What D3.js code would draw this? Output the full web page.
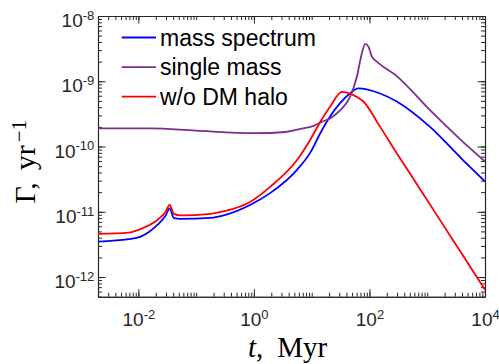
<!DOCTYPE html>
<html>
<head>
<meta charset="utf-8">
<script src="https://cdn.jsdelivr.net/npm/d3@7"></script>
<style>
  body { margin: 0; background: #fff; }
  svg { display: block; }
</style>
</head>
<body>
<svg id="chart" width="499" height="364"></svg>
<script>
// values (t in Myr, Gamma in 1/yr)
var tSpec = [2e-3, 6.8e-3, 0.011, 0.0213, 0.0297, 0.0348, 0.0412, 0.0538, 0.177, 0.322, 0.87, 1.93, 5.57, 9.4, 14.1, 20.9, 31.2, 46.4, 63.8, 153, 297, 1117, 4150, 1e4]
var gSpec = [3.5e-12, 3.8e-12, 4.17e-12, 6.3e-12, 8.75e-12, 1.13e-11, 7.98e-12, 7.78e-12, 8.07e-12, 8.97e-12, 1.28e-11, 1.95e-11, 4.4e-11, 8.0e-11, 1.6e-10, 2.9e-10, 4.66e-10, 6.55e-10, 7.8e-10, 6.5e-10, 4.9e-10, 2.0e-10, 6.2e-11, 2.9e-11]

var tSingle = [2e-3, 0.0163, 0.098, 1.06, 3.5, 6.36, 10.7, 15.1, 20.9, 31.2, 46.4, 60.5, 73.9, 84.3, 96.2, 110, 134, 297, 1117, 4150, 1e4]
var gSingle = [1.9e-10, 1.9e-10, 1.75e-10, 1.6e-10, 1.67e-10, 1.86e-10, 2.07e-10, 2.4e-10, 2.7e-10, 3.6e-10, 5.8e-10, 1.17e-9, 2.68e-9, 3.73e-9, 3.39e-9, 2.38e-9, 2.0e-9, 1.2e-9, 3.6e-10, 1.18e-10, 5.9e-11]

var tNoHalo = [2e-3, 6.8e-3, 0.011, 0.0213, 0.0297, 0.0348, 0.0412, 0.0538, 0.177, 0.322, 0.87, 1.93, 5.57, 9.4, 14.1, 20.9, 33.4, 51.6, 78.7, 153, 297, 857, 2477, 1e4]
var gNoHalo = [4.6e-12, 4.8e-12, 5.47e-12, 7.5e-12, 1.0e-11, 1.28e-11, 9.3e-12, 8.8e-12, 9.3e-12, 1.03e-11, 1.43e-11, 2.43e-11, 6.2e-11, 1.26e-10, 2.4e-10, 4.1e-10, 6.9e-10, 6.2e-10, 4.9e-10, 2.0e-10, 7.9e-11, 1.86e-11, 4.33e-12, 6.4e-13]

var seriesNames = ['mass spectrum', 'single mass', 'w/o DM halo']
var seriesColors = ['#0000ff', '#7e2f8e', '#ff0000']

var xMajor = [1e-2, 1, 1e2, 1e4]
var yMajor = [1e-12, 1e-11, 1e-10, 1e-9, 1e-8]

var svg = d3.select('#chart')
var axisColor = '#262626'

// plot box (window.top is read-only, so no bare "top")
var pLeft = 98, pRight = 485, pTop = 16, pBottom = 296.7

var x = d3.scaleLog().domain([2e-3, 1e4]).range([pLeft, pRight])
var y = d3.scaleLog().domain([5e-13, 1e-8]).range([pBottom, pTop])

// minor ticks: 1..9 times each decade inside the domain
function minorTicks(scale) {
    var d = scale.domain(), out = []
    for (var e = Math.floor(Math.log10(d[0])); e <= Math.ceil(Math.log10(d[1])); e++) {
        for (var k = 1; k < 10; k++) {
            var v = k * Math.pow(10, e)
            if (v >= d[0] * 0.999 && v <= d[1] * 1.001) out.push(v)
        }
    }
    return out
}

function drawAxis(axisFn, scale, major, tx, ty) {
    svg.append('g')
        .attr('transform', 'translate(' + tx + ',' + ty + ')')
        .call(axisFn(scale).tickValues(minorTicks(scale)).tickSizeInner(-4).tickSizeOuter(0).tickFormat(''))
    return svg.append('g')
        .attr('transform', 'translate(' + tx + ',' + ty + ')')
        .call(axisFn(scale).tickValues(major).tickSizeInner(-7.5).tickSizeOuter(0).tickFormat(''))
}

var gx = drawAxis(d3.axisBottom, x, xMajor, 0, pBottom)
drawAxis(d3.axisTop, x, xMajor, 0, pTop)
var gy = drawAxis(d3.axisLeft, y, yMajor, pLeft, 0)
drawAxis(d3.axisRight, y, yMajor, pRight, 0)

svg.selectAll('.domain').attr('stroke', axisColor).attr('stroke-width', 1.1)
svg.selectAll('.tick line').attr('stroke', axisColor).attr('stroke-width', 1)

function expLabel(sel) {
    sel.text('10')
    sel.append('tspan')
        .attr('dy', '-0.55em')
        .attr('font-size', 13)
        .text(function(d){ return Math.round(Math.log10(d)) })
}

gx.selectAll('.tick').append('text')
    .attr('x', 0)
    .attr('y', 29.5)
    .attr('text-anchor', 'middle')
    .attr('fill', axisColor)
    .attr('font-family', 'Liberation Sans, Arial, sans-serif')
    .attr('font-size', 19)
    .each(function(){ expLabel(d3.select(this)) })

gy.selectAll('.tick').append('text')
    .attr('x', -3.7)
    .attr('y', 10.5)
    .attr('text-anchor', 'end')
    .attr('fill', axisColor)
    .attr('font-family', 'Liberation Sans, Arial, sans-serif')
    .attr('font-size', 19)
    .each(function(){ expLabel(d3.select(this)) })

// curves
var tData = [tSpec, tSingle, tNoHalo]
var gData = [gSpec, gSingle, gNoHalo]

var line = d3.line()
    .x(function(d){ return x(d[0]) })
    .y(function(d){ return y(d[1]) })
    .curve(d3.curveMonotoneX)

svg.append('defs').append('clipPath').attr('id', 'clip')
    .append('rect').attr('x', pLeft).attr('y', pTop).attr('width', pRight - pLeft).attr('height', pBottom - pTop)

var plot = svg.append('g').attr('clip-path', 'url(#clip)')
for (var i = 0; i < 3; i++) {
    var pts = d3.zip(tData[i], gData[i])
    plot.append('path')
        .datum(pts)
        .attr('d', line)
        .attr('fill', 'none')
        .attr('stroke', seriesColors[i])
        .attr('stroke-width', 1.8)
}

// legend
var legend = svg.append('g')
seriesNames.forEach(function(name, i){
    var ly = 37.5 + i * 29.6
    legend.append('line')
        .attr('x1', 121.7).attr('x2', 156)
        .attr('y1', ly).attr('y2', ly)
        .attr('stroke', seriesColors[i])
        .attr('stroke-width', 1.8)
    legend.append('text')
        .attr('x', 160)
        .attr('y', ly + 8.3)
        .attr('font-family', 'Liberation Sans, Arial, sans-serif')
        .attr('font-size', 23)
        .attr('fill', '#000')
        .text(name)
})

// axis titles
var xt = svg.append('text')
    .attr('x', 248)
    .attr('y', 356.5)
    .attr('font-family', 'Liberation Serif, Times New Roman, serif')
    .attr('font-size', 29)
    .attr('fill', '#000')
xt.append('tspan').attr('font-style', 'italic').text('t')
xt.append('tspan').text(',')
xt.append('tspan').attr('dx', 14).text('Myr')

var yt = svg.append('text')
    .attr('transform', 'translate(35,203.5) rotate(-90)')
    .attr('font-family', 'Liberation Serif, Times New Roman, serif')
    .attr('font-size', 30)
    .attr('fill', '#000')
yt.append('tspan').text('\u0393,')
yt.append('tspan').attr('dx', 12).text('yr')
yt.append('tspan').attr('dx', 3).attr('dy', '-0.45em').attr('font-size', 21).text('\u22121')
</script>
</body>
</html>
